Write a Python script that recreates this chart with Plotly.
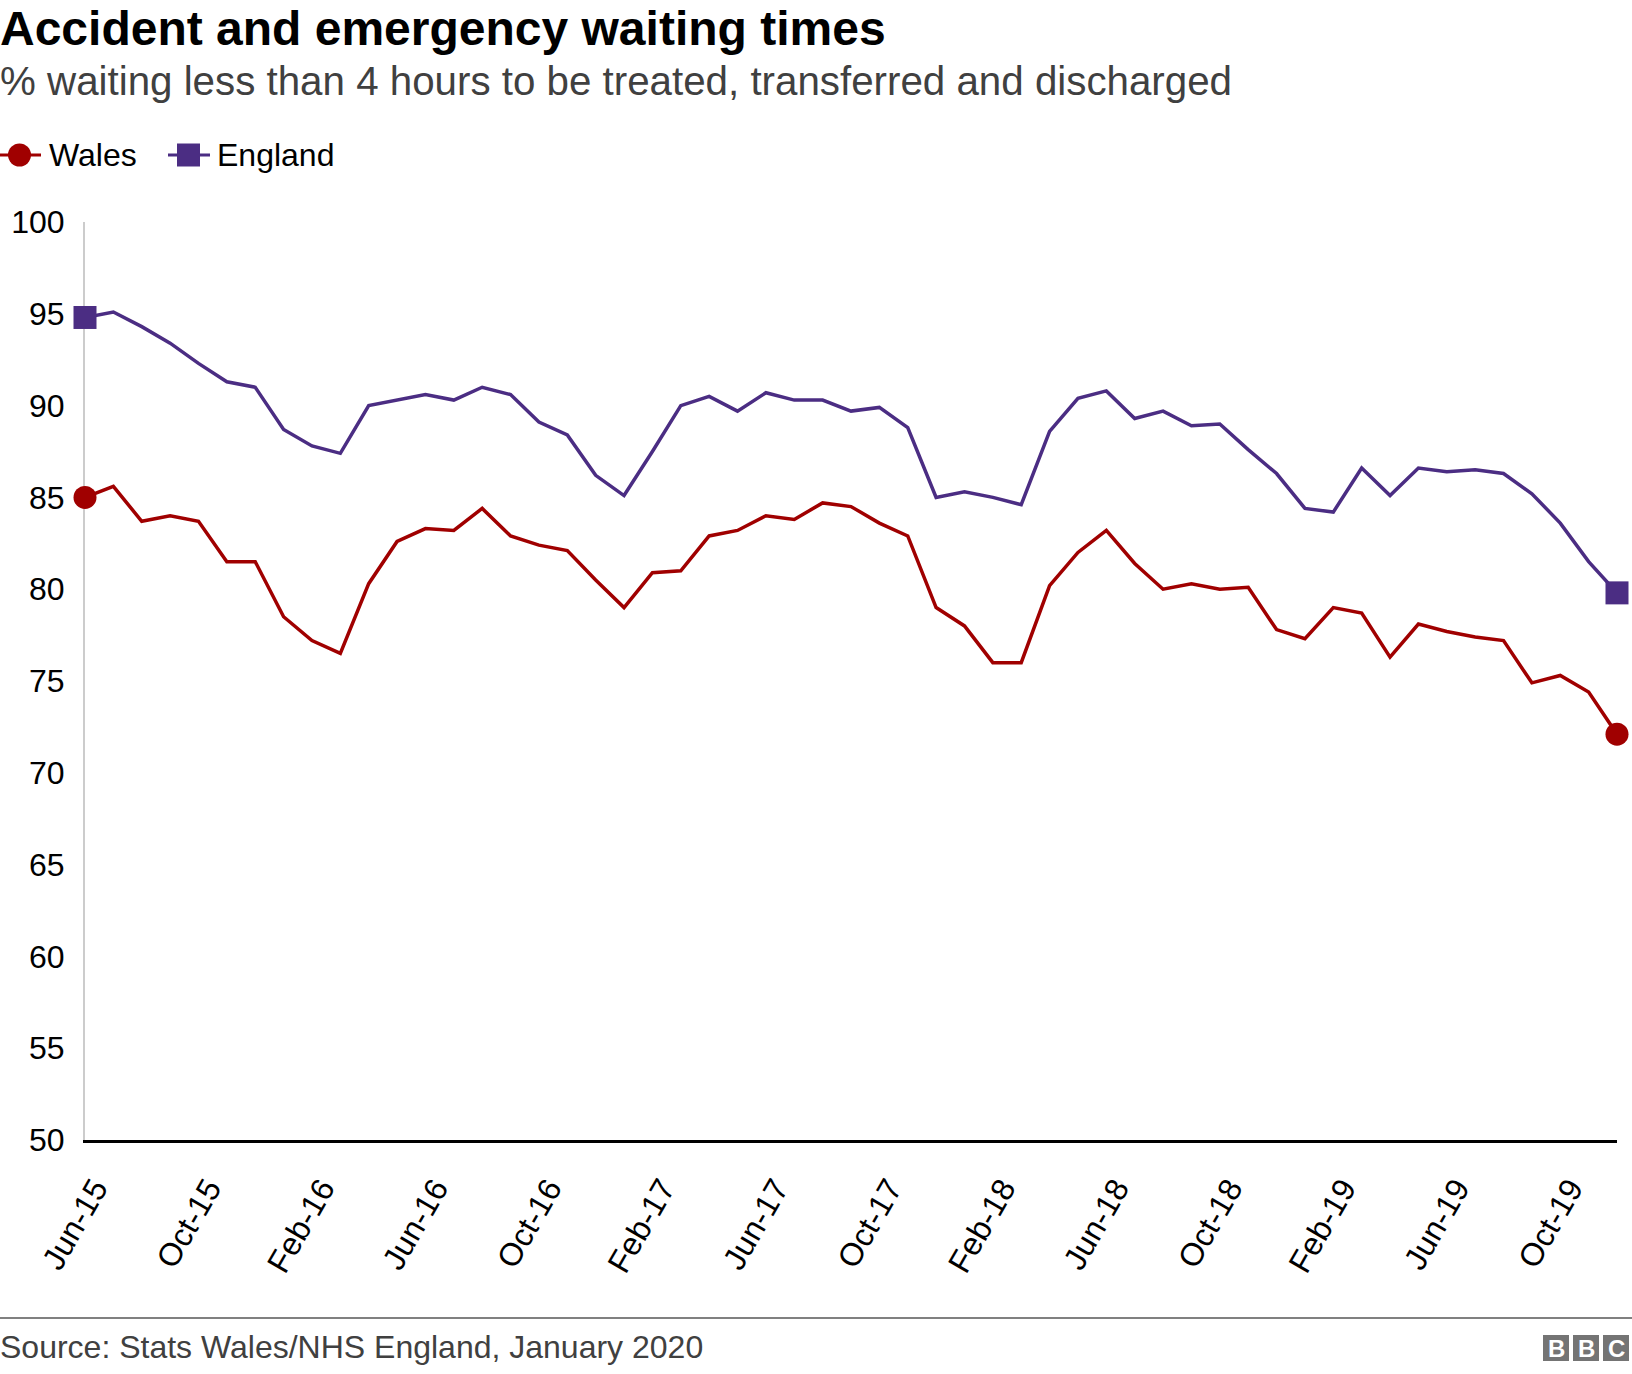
import plotly.graph_objects as go
import pandas as pd

# monthly figures, Jun 2015 - Dec 2019
months = pd.date_range("2015-06-01", "2019-12-01", freq="MS").strftime("%b-%y").tolist()

wales = [85.0, 85.6, 83.7, 84.0, 83.7, 81.5, 81.5, 78.5, 77.2, 76.5,
         80.3, 82.6, 83.3, 83.2, 84.4, 82.9, 82.4, 82.1, 80.5, 79.0,
         80.9, 81.0, 82.9, 83.2, 84.0, 83.8, 84.7, 84.5, 83.6, 82.9,
         79.0, 78.0, 76.0, 76.0, 80.2, 82.0, 83.2, 81.4, 80.0, 80.3,
         80.0, 80.1, 77.8, 77.3, 79.0, 78.7, 76.3, 78.1, 77.7, 77.4,
         77.2, 74.9, 75.3, 74.4, 72.1]

england = [94.8, 95.1, 94.3, 93.4, 92.3, 91.3, 91.0, 88.7, 87.8, 87.4,
           90.0, 90.3, 90.6, 90.3, 91.0, 90.6, 89.1, 88.4, 86.2, 85.1,
           87.5, 90.0, 90.5, 89.7, 90.7, 90.3, 90.3, 89.7, 89.9, 88.8,
           85.0, 85.3, 85.0, 84.6, 88.6, 90.4, 90.8, 89.3, 89.7, 88.9,
           89.0, 87.6, 86.3, 84.4, 84.2, 86.6, 85.1, 86.6, 86.4, 86.5,
           86.3, 85.2, 83.6, 81.5, 79.8]

tick_labels = months[::4]
y_ticks = [50, 55, 60, 65, 70, 75, 80, 85, 90, 95, 100]

RED = "#a00000"
PURPLE = "#4b2d83"
FONT = "Liberation Sans, Arial, sans-serif"

W, H = 1632, 1374
ML, MR, MT, MB = 85, 15, 222, 234
PW, PH = W - ML - MR, H - MT - MB


# pixel position in the page -> paper coords
def px(x):
    return (x - ML) / PW


def py(y):
    return (H - MB - y) / PH


fig = go.Figure()

for name, vals, color, symbol in [("Wales", wales, RED, "circle"),
                                  ("England", england, PURPLE, "square")]:
    fig.add_trace(go.Scatter(
        x=months, y=vals, name=name, mode="lines",
        line=dict(color=color, width=3.5),
        cliponaxis=False, showlegend=False
    ))
    # markers only on first and last month
    fig.add_trace(go.Scatter(
        x=[months[0], months[-1]], y=[vals[0], vals[-1]], name=name, mode="markers",
        marker=dict(symbol=symbol, size=23, color=color, opacity=1, line=dict(width=0)),
        cliponaxis=False, showlegend=False, hoverinfo="skip"
    ))

shapes = []
annotations = []

# legend drawn by hand so the markers keep their real size
legend_y = 155
shapes.append(dict(type="line", xref="paper", yref="paper",
                   x0=px(0), x1=px(41), y0=py(legend_y), y1=py(legend_y),
                   line=dict(color=RED, width=3)))
shapes.append(dict(type="circle", xref="paper", yref="paper",
                   x0=px(8), x1=px(31), y0=py(legend_y - 11.5), y1=py(legend_y + 11.5),
                   fillcolor=RED, line=dict(width=0)))
annotations.append(dict(text="Wales", xref="paper", yref="paper", x=px(47), y=py(legend_y),
                        xanchor="left", yanchor="middle", showarrow=False,
                        font=dict(size=32, color="#000000", family=FONT)))
shapes.append(dict(type="line", xref="paper", yref="paper",
                   x0=px(168), x1=px(210), y0=py(legend_y), y1=py(legend_y),
                   line=dict(color=PURPLE, width=3)))
shapes.append(dict(type="rect", xref="paper", yref="paper",
                   x0=px(177), x1=px(200), y0=py(legend_y - 11.5), y1=py(legend_y + 11.5),
                   fillcolor=PURPLE, line=dict(width=0)))
annotations.append(dict(text="England", xref="paper", yref="paper", x=px(215), y=py(legend_y),
                        xanchor="left", yanchor="middle", showarrow=False,
                        font=dict(size=32, color="#000000", family=FONT)))

# subtitle
annotations.append(dict(text="% waiting less than 4 hours to be treated, transferred and discharged",
                        xref="paper", yref="paper", x=px(-2), y=py(81),
                        xanchor="left", yanchor="middle", showarrow=False,
                        font=dict(size=40.3, color="#404040", family=FONT)))

# footer rule, source and logo
shapes.append(dict(type="line", xref="paper", yref="paper",
                   x0=px(0), x1=px(W), y0=py(1318), y1=py(1318),
                   line=dict(color="#808080", width=2)))
annotations.append(dict(text="Source: Stats Wales/NHS England, January 2020",
                        xref="paper", yref="paper", x=px(-2), y=py(1347),
                        xanchor="left", yanchor="middle", showarrow=False,
                        font=dict(size=32, color="#404040", family=FONT)))
for i, letter in enumerate("BBC"):
    x0 = 1543 + i * 30
    shapes.append(dict(type="rect", xref="paper", yref="paper",
                       x0=px(x0), x1=px(x0 + 26), y0=py(1335), y1=py(1361),
                       fillcolor="#747474", line=dict(width=0)))
    annotations.append(dict(text=letter, xref="paper", yref="paper",
                            x=px(x0 + 13), y=py(1348), xanchor="center", yanchor="middle",
                            showarrow=False,
                            font=dict(size=24, color="#ffffff", family=FONT, weight="bold")))

fig.update_layout(
    width=W, height=H,
    margin=dict(l=ML, r=MR, t=MT, b=MB, pad=0),
    paper_bgcolor="#ffffff", plot_bgcolor="#ffffff",
    showlegend=False,
    title=dict(text="Accident and emergency waiting times",
               xref="container", yref="container", x=0, y=1 - 28 / H,
               xanchor="left", yanchor="middle",
               font=dict(size=48, color="#000000", family=FONT, weight="bold")),
    shapes=shapes,
    annotations=annotations,
    xaxis=dict(
        type="category", range=[0, len(months) - 1], automargin=False,
        tickvals=tick_labels, ticktext=tick_labels, tickangle=-60,
        showgrid=False, zeroline=False,
        showline=True, linecolor="#000000", linewidth=3,
        ticks="outside", ticklen=14, tickcolor="rgba(0,0,0,0)",
        ticklabelshift=10,
        tickfont=dict(size=32, color="#000000", family=FONT),
    ),
    yaxis=dict(
        range=[50, 100], tickvals=y_ticks, automargin=False,
        showgrid=False, zeroline=False, layer="below traces",
        showline=True, linecolor="#cccccc", linewidth=2,
        ticks="outside", ticklen=12, tickcolor="rgba(0,0,0,0)",
        tickfont=dict(size=32, color="#000000", family=FONT),
    ),
)

# drop the default page margin so the figure sits at the window's top-left corner
fig.write_html("out.html", config={"displayModeBar": False},
               post_script="document.body.style.margin = '0';")
